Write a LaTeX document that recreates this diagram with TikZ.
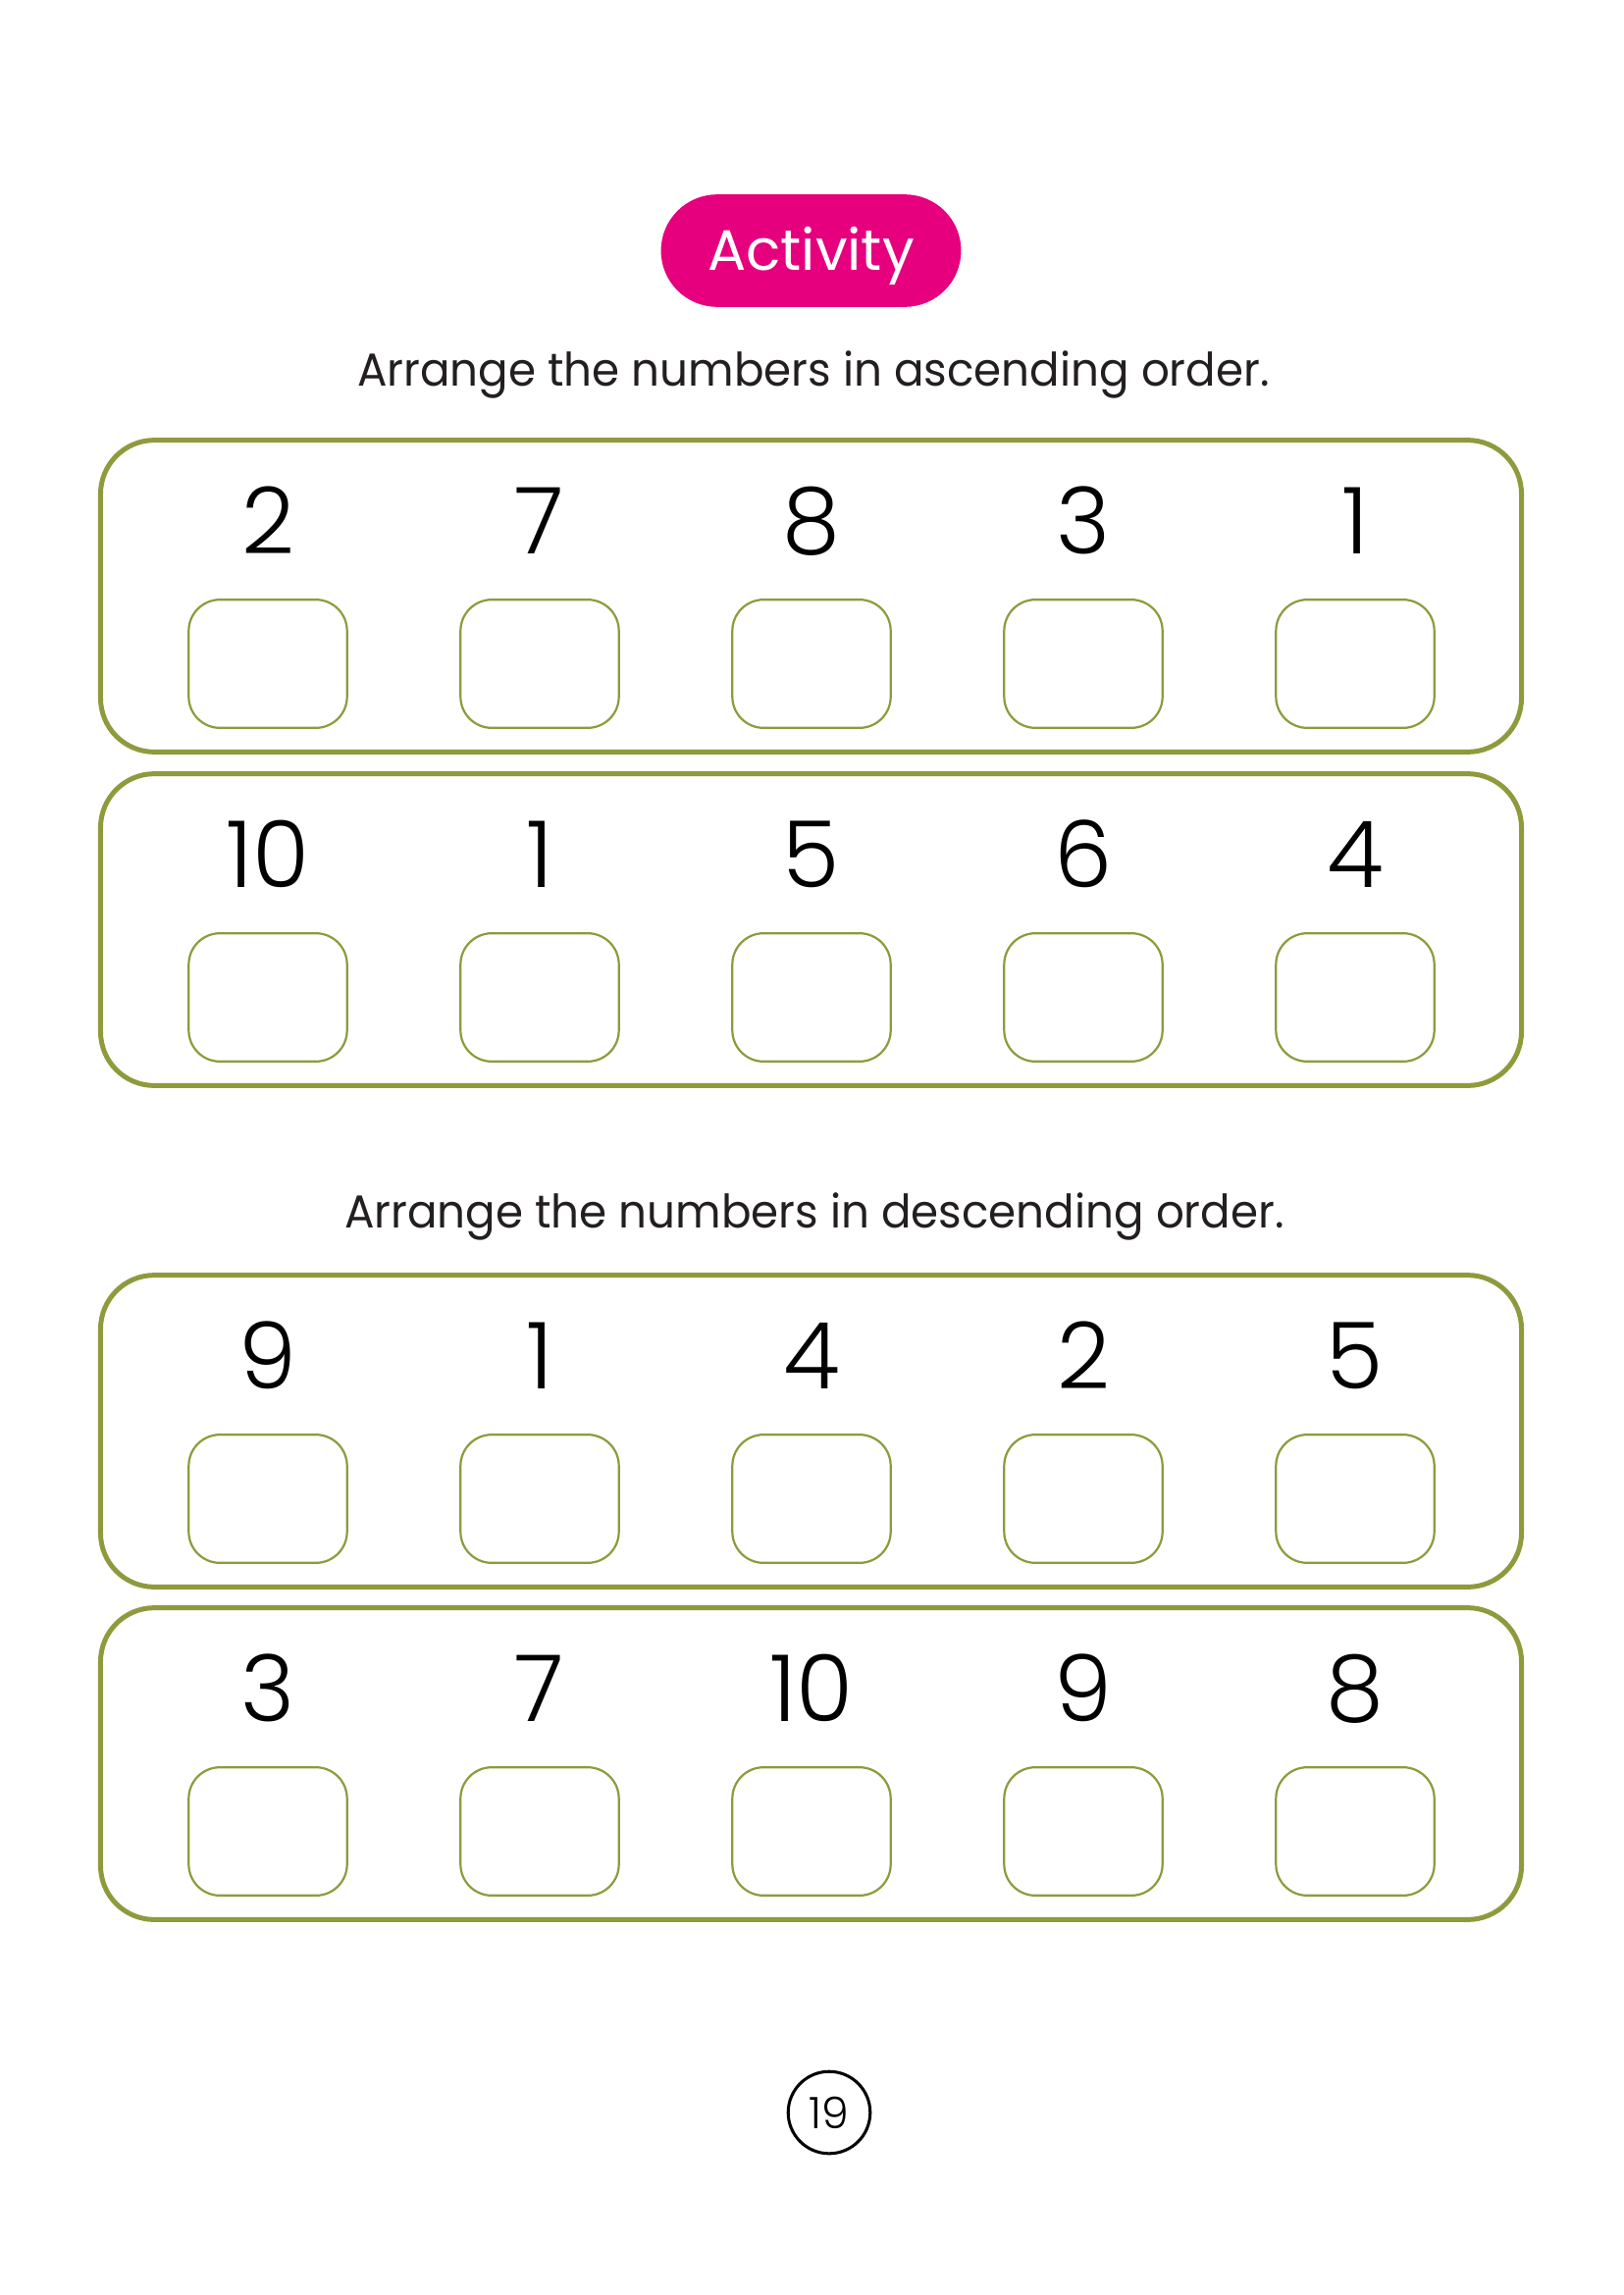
\documentclass[tikz,border=0pt]{standalone}
\usepackage{fontspec}
\setmainfont{Poppins}
\newfontfamily\numfont{Poppins}[UprightFont=* Light]
\newfontfamily\instrfont{Poppins}[FakeStretch=0.96]
\definecolor{actpink}{HTML}{E6007E}
\definecolor{boxgreen}{HTML}{8F9A3C}
\definecolor{inkgray}{HTML}{231F20}
\begin{document}
\begin{tikzpicture}[x={(0.12697mm,0)},y={(0,-0.12697mm)},
    pill/.style={fill=actpink,text=white,rounded corners=20.7pt,minimum width=110.5pt,minimum height=41.4pt,inner sep=0pt,font=\fontsize{21}{25}\selectfont},
    instr/.style={text=inkgray,anchor=base,inner sep=0pt,font=\instrfont\fontsize{17}{20}\selectfont},
    rowbox/.style={draw=boxgreen,line width=1.8pt,rounded corners=19.8pt,minimum width=523.1pt,minimum height=114.8pt,inner sep=0pt},
    answerbox/.style={draw=boxgreen,line width=0.8pt,rounded corners=11.5pt,minimum width=58.3pt,minimum height=47.2pt,inner sep=0pt},
    numtext/.style={anchor=base,inner sep=0pt,font=\numfont\fontsize{34}{40}\selectfont},
    pagenum/.style={draw,circle,line width=1.1pt,minimum size=30.2pt,inner sep=0pt,font=\numfont\fontsize{16}{19}\selectfont}]
\useasboundingbox (0,0) rectangle (1654,2339);
\node[pill,text height=14.7pt,text depth=0pt] (badge) at (826.5,255.5) {Activity};
\node[instr] (ascline) at (829,393) {Arrange the numbers in ascending order.};
\node[instr] (descline) at (830,1251) {Arrange the numbers in descending order.};
% four rows of numbers with answer boxes
\foreach \r/\top/\nums in {1/448/{2,7,8,3,1},2/788/{10,1,5,6,4},3/1299/{9,1,4,2,5},4/1638/{3,7,10,9,8}}{
  \node[rowbox] (row\r) at (826.5,{\top+159.5}) {};
  \foreach \n [count=\c] in \nums{
    \node[numtext] (num\r\c) at ({273+277*(\c-1)},{\top+116}) {\n};
    \node[answerbox] (ans\r\c) at ({273+277*(\c-1)},{\top+228.5}) {};
  }
}
\node[pagenum] (page) at (845,2153) {19};
\end{tikzpicture}
\end{document}
